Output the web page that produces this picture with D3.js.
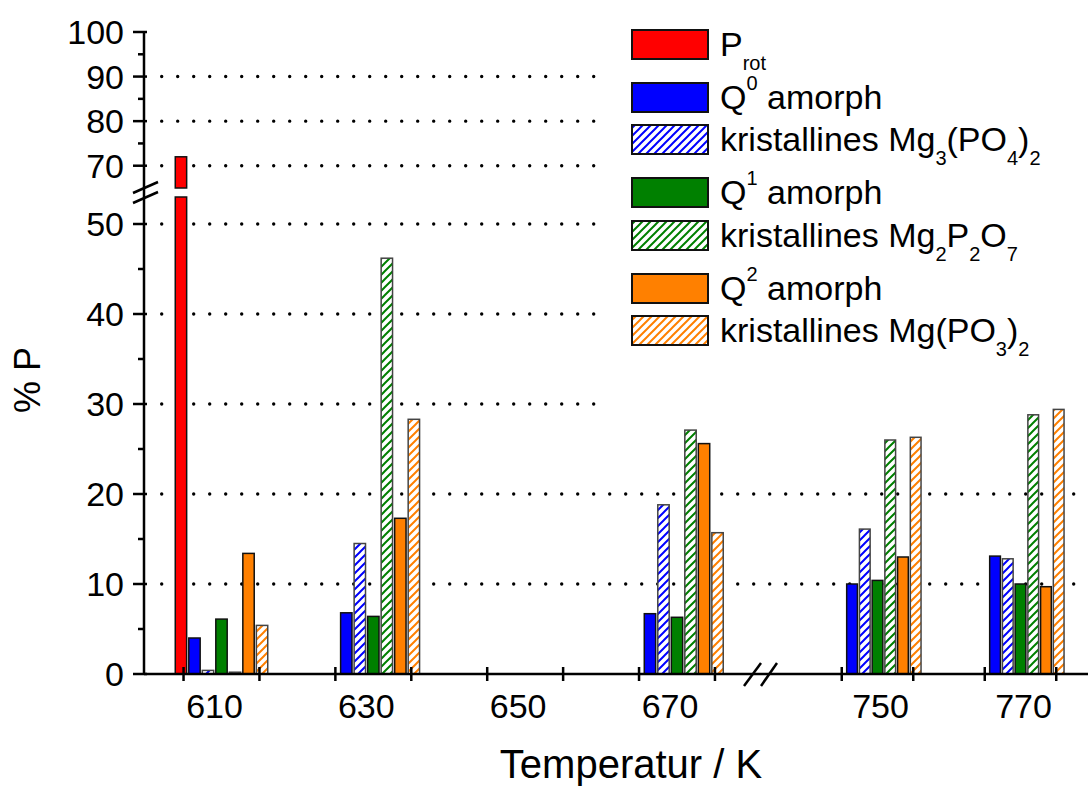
<!DOCTYPE html>
<html>
<head>
<meta charset="utf-8">
<script src="https://cdn.jsdelivr.net/npm/d3@7"></script>
<style>
  html, body { margin: 0; padding: 0; background: #fff; }
  text { font-family: "Liberation Sans", Arial, sans-serif; fill: #000; }
</style>
</head>
<body>
<script>
// ---------------- DATA ----------------
const temperatures = [610, 630, 670, 750, 770];
const Prot     = [72.0, 0, 0, 0, 0];
const Q0amorph = [4.0, 6.8, 6.7, 10.0, 13.1];
const Mg3PO4_2 = [0.4, 14.5, 18.8, 16.1, 12.8];
const Q1amorph = [6.1, 6.4, 6.3, 10.4, 10.0];
const Mg2P2O7  = [0.2, 46.2, 27.1, 26.0, 28.8];
const Q2amorph = [13.4, 17.3, 25.6, 13.0, 9.7];
const MgPO3_2  = [5.4, 28.3, 15.7, 26.3, 29.4];

const xTicksLeft = [605, 615, 625, 635, 645, 655, 665, 675];
const xTicksRight = [745, 755, 765, 775];
const xLabelsLeft = [610, 630, 650, 670];
const xLabelsRight = [750, 770];
const yMajorLow = [0, 10, 20, 30, 40, 50];
const yMinorLow = [5, 15, 25, 35, 45];
const yMajorUp = [70, 80, 90, 100];
const yMinorUp = [75, 85, 95];
const yGridLow = [10, 20, 30, 40, 50];
const yGridUp = [70, 80, 90];

const series = [
  {key: "Prot", values: Prot, color: "#FF0000", hatch: false},
  {key: "Q0", values: Q0amorph, color: "#0000FF", hatch: false},
  {key: "Mg3", values: Mg3PO4_2, color: "#0000FF", hatch: true},
  {key: "Q1", values: Q1amorph, color: "#008000", hatch: false},
  {key: "Mg2", values: Mg2P2O7, color: "#008000", hatch: true},
  {key: "Q2", values: Q2amorph, color: "#FF8000", hatch: false},
  {key: "MgP", values: MgPO3_2, color: "#FF8000", hatch: true}
];

// ---------------- SETUP ----------------
const W = 1088, H = 788;
const svg = d3.select("body").append("svg").attr("width", W).attr("height", H);
const defs = svg.append("defs");

const axisX = 144, axisY = 674, plotRight = 1080;

// y scales (broken axis)
const lowMax = 53, upMin = 65;
const yLow = d3.scaleLinear().domain([0, lowMax]).range([674, 197]);
const yUp = d3.scaleLinear().domain([upMin, 100]).range([188, 32]);

// x scales (broken axis)
const xL = d3.scaleLinear().domain([610, 670]).range([221.5, 677]);
const xR = d3.scaleLinear().domain([750, 770]).range([877.5, 1020.5]);
const xS = t => t < 700 ? xL(t) : xR(t);

const slotPitch = 1.78, barW = 1.5;

// hatch patterns
series.filter(s => s.hatch).forEach(s => {
  const p = defs.append("pattern").attr("id", "hatch-" + s.key)
    .attr("patternUnits", "userSpaceOnUse").attr("width", 8).attr("height", 8);
  p.append("rect").attr("width", 8).attr("height", 8).attr("fill", "#fff");
  p.append("path").attr("d", "M-2,2 L2,-2 M0,8 L8,0 M6,10 L10,6")
    .attr("stroke", s.color).attr("stroke-width", 2).attr("fill", "none");
});
const fillOf = s => s.hatch ? `url(#hatch-${s.key})` : s.color;

// ---------------- GRID ----------------
const grid = svg.append("g");
const gridLine = y => grid.append("line")
  .attr("x1", 161.7).attr("x2", plotRight).attr("y1", y).attr("y2", y)
  .attr("stroke", "#000").attr("stroke-width", 3.4)
  .attr("stroke-linecap", "round").attr("stroke-dasharray", "0,16");
yGridLow.forEach(v => gridLine(yLow(v)));
yGridUp.forEach(v => gridLine(yUp(v)));

// legend background covers grid
svg.append("rect").attr("x", 600).attr("y", 12).attr("width", 480).attr("height", 400).attr("fill", "#fff");

// ---------------- BARS ----------------
const bars = svg.append("g");
const drawRect = (s, x0, x1, yTop, yBot) => bars.append("rect")
  .attr("x", x0).attr("width", x1 - x0).attr("y", yTop).attr("height", yBot - yTop)
  .attr("fill", fillOf(s)).attr("stroke", s.hatch ? "#444" : "#111").attr("stroke-width", 1.5);
series.forEach((s, i) => {
  s.values.forEach((v, j) => {
    if (!v) return;
    const t = temperatures[j];
    const c = t + (i - 3) * slotPitch;
    const x0 = xS(c - barW / 2), x1 = xS(c + barW / 2);
    if (v <= lowMax) {
      drawRect(s, x0, x1, yLow(v), yLow(0));
    } else {
      drawRect(s, x0, x1, yLow(lowMax), yLow(0));
      drawRect(s, x0, x1, yUp(v), yUp(upMin));
    }
  });
});

// ---------------- AXES ----------------
const ax = svg.append("g").attr("stroke", "#000").attr("stroke-width", 2.5);
ax.append("line").attr("x1", axisX).attr("x2", axisX).attr("y1", yUp(100) - 1).attr("y2", axisY + 1);
ax.append("line").attr("x1", axisX).attr("x2", plotRight + 8).attr("y1", axisY).attr("y2", axisY);

yMajorLow.forEach(v => ax.append("line").attr("x1", axisX - 11).attr("x2", axisX + 3).attr("y1", yLow(v)).attr("y2", yLow(v)));
yMinorLow.forEach(v => ax.append("line").attr("x1", axisX - 6).attr("x2", axisX + 1).attr("y1", yLow(v)).attr("y2", yLow(v)));
yMajorUp.forEach(v => ax.append("line").attr("x1", axisX - 11).attr("x2", axisX + 3).attr("y1", yUp(v)).attr("y2", yUp(v)));
yMinorUp.forEach(v => ax.append("line").attr("x1", axisX - 6).attr("x2", axisX + 1).attr("y1", yUp(v)).attr("y2", yUp(v)));

xTicksLeft.forEach(t => ax.append("line").attr("x1", xL(t)).attr("x2", xL(t)).attr("y1", axisY - 7).attr("y2", axisY + 7));
xTicksRight.forEach(t => ax.append("line").attr("x1", xR(t)).attr("x2", xR(t)).attr("y1", axisY - 7).attr("y2", axisY + 7));

// break marks
const brk = svg.append("g").attr("stroke", "#000").attr("stroke-width", 2.5);
brk.append("line").attr("x1", 133).attr("y1", 193).attr("x2", 158).attr("y2", 182);
brk.append("line").attr("x1", 133).attr("y1", 203).attr("x2", 158).attr("y2", 192);
brk.append("line").attr("x1", 744).attr("y1", 686).attr("x2", 761).attr("y2", 663);
brk.append("line").attr("x1", 761).attr("y1", 686).attr("x2", 777).attr("y2", 663);

// tick labels
const labels = svg.append("g").attr("font-size", 34);
yMajorLow.forEach(v => labels.append("text").attr("x", 124).attr("y", yLow(v)).attr("dy", "0.36em").attr("text-anchor", "end").text(v));
yMajorUp.forEach(v => labels.append("text").attr("x", 124).attr("y", yUp(v)).attr("dy", "0.36em").attr("text-anchor", "end").text(v));
xLabelsLeft.forEach(v => labels.append("text").attr("x", xL(v) - 7).attr("y", 718).attr("text-anchor", "middle").text(v));
xLabelsRight.forEach(v => labels.append("text").attr("x", xR(v) + 3).attr("y", 718).attr("text-anchor", "middle").text(v));

// axis titles
svg.append("text").attr("x", 631).attr("y", 778).attr("text-anchor", "middle").attr("font-size", 40).text("Temperatur / K");
svg.append("text").attr("transform", "translate(40,380) rotate(-90)").attr("text-anchor", "middle").attr("font-size", 36).text("% P");

// ---------------- LEGEND ----------------
const legendRows = [30, 83, 125, 178, 221, 274, 316];
const legendTexts = [
  [["P", 0], ["rot", 1]],
  [["Q", 0], ["0", -1], [" amorph", 0]],
  [["kristallines Mg", 0], ["3", 1], ["(PO", 0], ["4", 1], [")", 0], ["2", 1]],
  [["Q", 0], ["1", -1], [" amorph", 0]],
  [["kristallines Mg", 0], ["2", 1], ["P", 0], ["2", 1], ["O", 0], ["7", 1]],
  [["Q", 0], ["2", -1], [" amorph", 0]],
  [["kristallines Mg(PO", 0], ["3", 1], [")", 0], ["2", 1]]
];
const lg = svg.append("g");
series.forEach((s, i) => {
  const top = legendRows[i];
  lg.append("rect").attr("x", 632).attr("y", top).attr("width", 76).attr("height", 29)
    .attr("fill", fillOf(s)).attr("stroke", "#111").attr("stroke-width", 2);
  const baseY = top + 26;
  const t = lg.append("text").attr("x", 720).attr("y", baseY).attr("font-size", 34);
  legendTexts[i].forEach(([str, mode]) => {
    const sp = t.append("tspan").text(str);
    if (mode === 1) sp.attr("font-size", 20).attr("y", baseY + 14);
    else if (mode === -1) sp.attr("font-size", 20).attr("y", baseY - 19);
    else sp.attr("y", baseY);
  });
});
</script>
</body>
</html>
